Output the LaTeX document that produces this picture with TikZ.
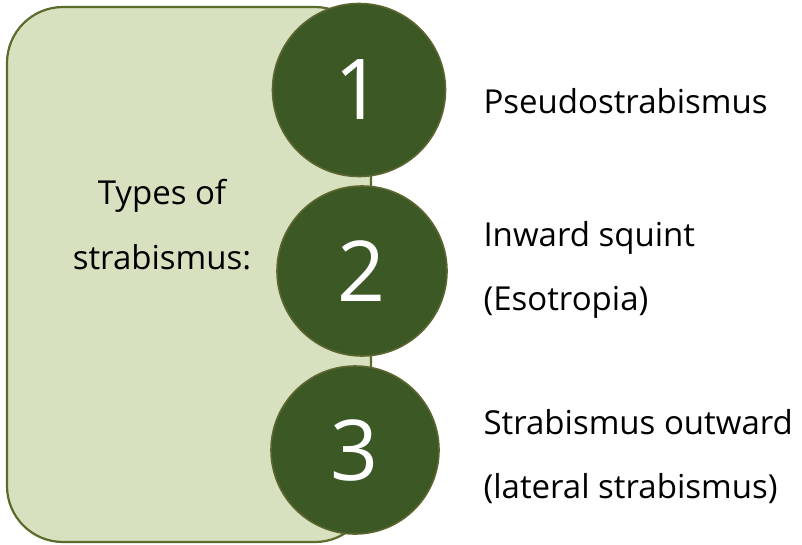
\documentclass[tikz,border=0pt]{standalone}
\usepackage{fontspec}
\setmainfont{Open Sans}
\usepackage{tikz}
\definecolor{panelfill}{HTML}{D7E1BF}
\definecolor{panelline}{HTML}{5A6B2B}
\definecolor{discfill}{HTML}{3C5925}
\definecolor{discline}{HTML}{5C6630}

\begin{document}
\begin{tikzpicture}[x=1pt,y=-1pt,
  numdisc/.style={circle,fill=discfill,draw=discline,line width=1.6pt,
    inner sep=0pt,text=white,font=\fontsize{84}{84}\selectfont},
  itemtext/.style={anchor=base west,align=left,font=\fontsize{33}{64}\selectfont}]
  \useasboundingbox (0,0) rectangle (802,544);
  \draw[panelline,fill=panelfill,line width=2.2pt,rounded corners=56pt]
    (7,7) rectangle (371,542);
  \node[align=center,font=\fontsize{33}{65}\selectfont] (types) at (162,225)
    {Types of\\strabismus:};
  \node[numdisc,minimum size=173pt] (n1) at (359,90) {1};
  \node[numdisc,minimum size=170pt] (n2) at (362,271) {2};
  \node[numdisc,minimum size=168pt] (n3) at (355,450) {3};
  % base of a two-line node is its last line
  \node[itemtext] (t1) at (480,113) {Pseudostrabismus};
  \node[itemtext] (t2) at (480,310) {Inward squint\\(Esotropia)};
  \node[itemtext] (t3) at (480,498) {Strabismus outward\\(lateral strabismus)};
\end{tikzpicture}
\end{document}
